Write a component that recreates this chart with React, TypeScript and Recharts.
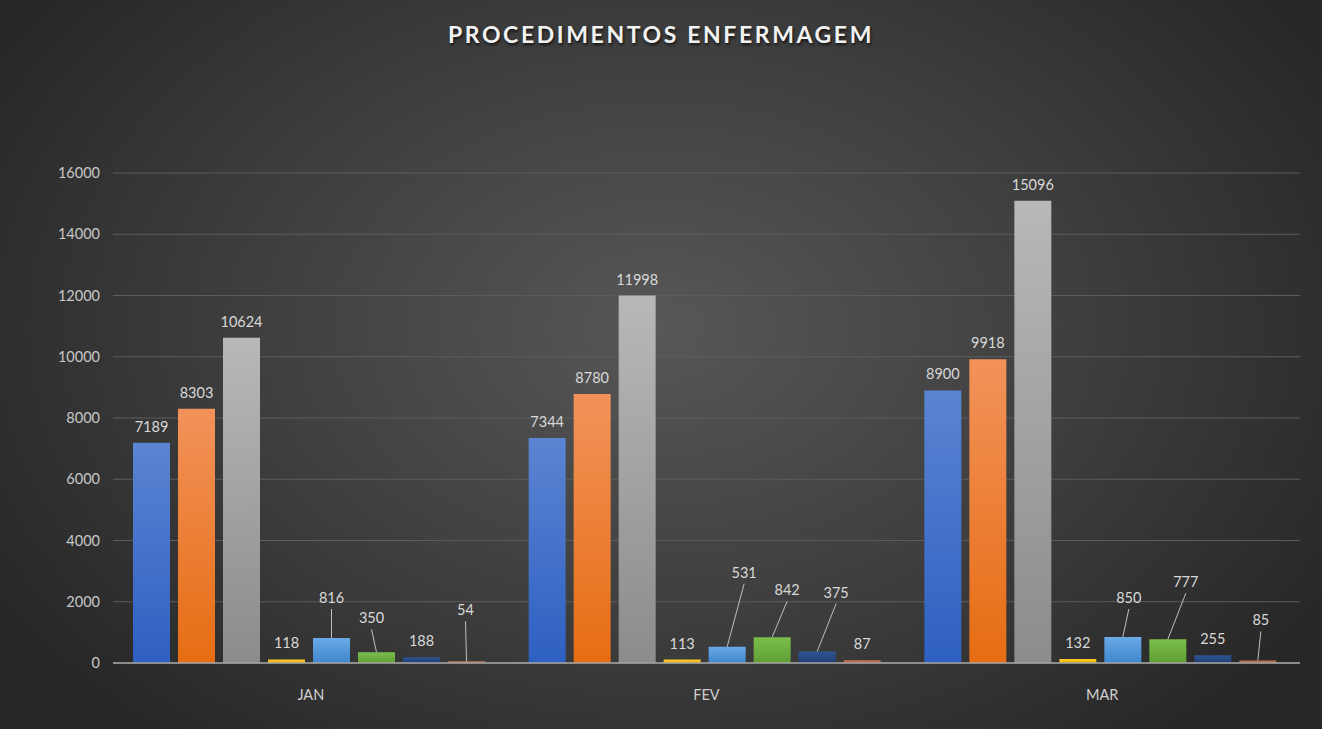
import React from 'react';
import { BarChart, Bar, XAxis, YAxis, CartesianGrid, LabelList } from 'recharts';

const CATEGORIES = ['JAN', 'FEV', 'MAR'];
const SERIES_1 = [7189, 7344, 8900];
const SERIES_2 = [8303, 8780, 9918];
const SERIES_3 = [10624, 11998, 15096];
const SERIES_4 = [118, 113, 132];
const SERIES_5 = [816, 531, 850];
const SERIES_6 = [350, 842, 777];
const SERIES_7 = [188, 375, 255];
const SERIES_8 = [54, 87, 85];
const Y_TICKS = [0, 2000, 4000, 6000, 8000, 10000, 12000, 14000, 16000];

const data = CATEGORIES.map((name, i) => ({
  name,
  p1: SERIES_1[i],
  p2: SERIES_2[i],
  p3: SERIES_3[i],
  p4: SERIES_4[i],
  p5: SERIES_5[i],
  p6: SERIES_6[i],
  p7: SERIES_7[i],
  p8: SERIES_8[i],
}));

// bar colours: [top, bottom] of each vertical gradient
const SERIES_STYLE: { key: string; top: string; bottom: string }[] = [
  { key: 'p1', top: '#5b84d2', bottom: '#2e60c2' },
  { key: 'p2', top: '#f2925a', bottom: '#e66d13' },
  { key: 'p3', top: '#b8b8b8', bottom: '#8c8c8c' },
  { key: 'p4', top: '#ffcb2e', bottom: '#f0b400' },
  { key: 'p5', top: '#6aaae6', bottom: '#3f87cf' },
  { key: 'p6', top: '#7cbf4c', bottom: '#5f9e35' },
  { key: 'p7', top: '#2f5596', bottom: '#1f3d73' },
  { key: 'p8', top: '#c57a5a', bottom: '#a9582f' },
];

// labels pulled away from small bars, drawn with a leader line
const LABEL_SHIFT: Record<string, [number, number]> = {
  'p5-0': [0, -24],
  'p6-0': [-5, -18],
  'p8-0': [-1, -35],
  'p5-1': [17, -58],
  'p6-1': [15, -31],
  'p7-1': [19, -43],
  'p5-2': [6, -23],
  'p6-2': [18, -41],
  'p8-2': [3, -24],
};

const FONT = 'Lato, "Open Sans", sans-serif';

const makeLabel = (key: string) => (props: any) => {
  const { x, y, width, value, index } = props;
  const cx = Number(x) + Number(width) / 2;
  const top = Number(y);
  const shift = LABEL_SHIFT[`${key}-${index}`];
  const lx = cx + (shift ? shift[0] : 0);
  const ly = top - 16 + (shift ? shift[1] : 0);
  return (
    <g>
      {shift && (
        <line x1={lx} y1={ly + 11} x2={cx} y2={top} stroke="#bfbfbf" strokeWidth={1} />
      )}
      <text x={lx} y={ly + 5} textAnchor="middle" fill="#d9d9d9" fontSize={14.5} fontFamily={FONT}>
        {value}
      </text>
    </g>
  );
};

export default function App() {
  return (
    <div
      style={{
        position: 'absolute',
        left: 0,
        top: 0,
        width: 1322,
        height: 729,
        background: 'radial-gradient(ellipse 60% 75% at 50% 45%, #575757 0%, #3d3d3d 55%, #262626 100%)',
        fontFamily: FONT,
      }}
    >
      <div
        style={{
          position: 'absolute',
          top: 20,
          left: 0,
          width: 1322,
          textAlign: 'center',
          color: '#f2f2f2',
          fontSize: 23,
          fontWeight: 700,
          letterSpacing: 2.6,
          textShadow: '1px 2px 3px rgba(0,0,0,0.7)',
        }}
      >
        PROCEDIMENTOS ENFERMAGEM
      </div>
      <BarChart
        width={1322}
        height={729}
        data={data}
        margin={{ top: 173, right: 22, bottom: 36, left: 40 }}
        barCategoryGap={20}
        barGap={8}
      >
        <defs>
          {SERIES_STYLE.map(s => (
            <linearGradient key={s.key} id={`grad-${s.key}`} x1="0" y1="0" x2="0" y2="1">
              <stop offset="0%" stopColor={s.top} />
              <stop offset="100%" stopColor={s.bottom} />
            </linearGradient>
          ))}
        </defs>
        <CartesianGrid vertical={false} stroke="#5c5c5c" strokeWidth={1} />
        <XAxis
          dataKey="name"
          height={30}
          tickLine={false}
          tickSize={0}
          tickMargin={27}
          axisLine={{ stroke: '#a6a6a6', strokeWidth: 1.5 }}
          tick={{ fill: '#d0d0d0', fontSize: 14.5, fontFamily: FONT }}
        />
        <YAxis
          width={73}
          domain={[0, 16000]}
          ticks={Y_TICKS}
          interval={0}
          tickLine={false}
          tickSize={0}
          tickMargin={13}
          axisLine={false}
          tick={{ fill: '#c8c8c8', fontSize: 14.5, fontFamily: FONT }}
        />
        {SERIES_STYLE.map(s => (
          <Bar key={s.key} dataKey={s.key} fill={`url(#grad-${s.key})`} isAnimationActive={false}>
            <LabelList dataKey={s.key} content={makeLabel(s.key)} />
          </Bar>
        ))}
      </BarChart>
    </div>
  );
}
